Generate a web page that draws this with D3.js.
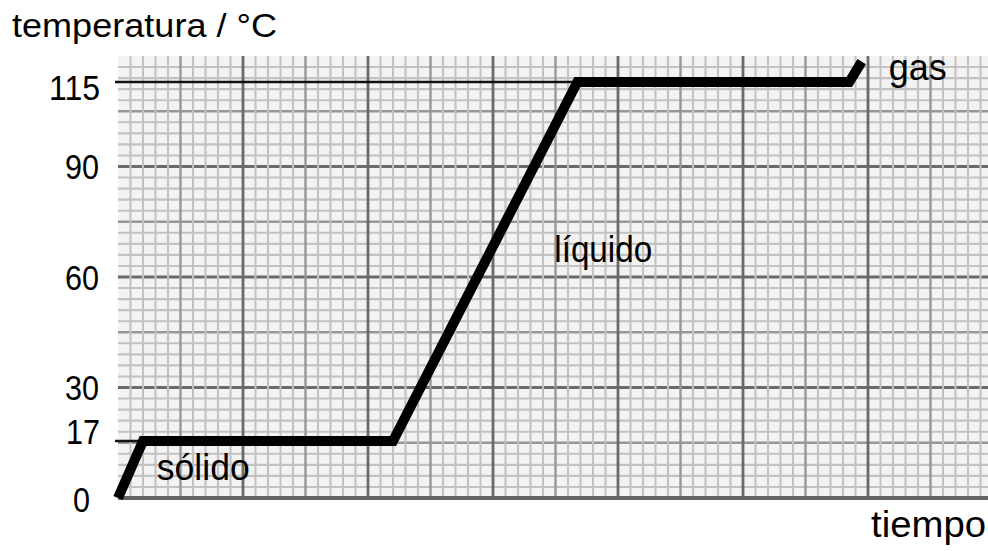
<!DOCTYPE html>
<html>
<head>
<meta charset="utf-8">
<script src="https://cdn.jsdelivr.net/npm/d3@7"></script>
<style>
  html, body { margin: 0; padding: 0; background: #fff; }
  svg { display: block; }
  text { font-family: "Liberation Sans", Arial, sans-serif; fill: #000; }
</style>
</head>
<body>
<svg id="chart"></svg>
<script>
// heating curve: time (arbitrary units, one per medium grid square) and temperature
const tiempo = [0, 0.4, 4.4, 7.35, 11.7, 11.9];
const temperatura = [0, 17, 17, 115, 115, 121];

// labelled temperatures on the vertical axis
const tempTicks = [0, 17, 30, 60, 90, 115];
// temperatures with a thin guide line out to the curve
const guideTemps = [17, 115];

// phase names and the point (time, temperature) where each label starts
const phases = ['sólido', 'líquido', 'gas'];
const phaseTiempo = [0.62, 6.98, 12.33];
const phaseTemp = [5.5, 64.3, 115.6];

document.addEventListener('DOMContentLoaded', function () {
    const width = 988;
    const height = 551;

    const svg = d3.select('#chart')
        .attr('width', width)
        .attr('height', height);

    // plot area (the graph paper)
    const left = 118, right = 993, bottom = 498, top = 56;

    // the axis is hand drawn, so the temperature scale is piecewise linear
    const yScale = d3.scaleLinear()
        .domain(tempTicks)
        .range([bottom, 441, 388, 278, 167, 82]);

    const xScale = d3.scaleLinear()
        .domain([0, 14])
        .range([left, right]);

    // graph paper: minor squares of 1/5 time unit across, 40 rows up
    const gx = d3.scaleLinear().domain([0, 70]).range([left, right]);
    const gy = d3.scaleLinear().domain([0, 40]).range([bottom, top]);

    const grid = svg.append('g').attr('class', 'grid');

    grid.append('rect')
        .attr('x', left)
        .attr('y', top)
        .attr('width', right - left)
        .attr('height', bottom - top)
        .attr('fill', '#f3f3f3');

    function lineStyle(i) {
        if (i % 10 === 0) return { c: '#6a6a6a', w: 2.8 };
        if (i % 5 === 0) return { c: '#979797', w: 2.4 };
        return { c: '#c2c2c2', w: 2.1 };
    }

    // minor lines first, then medium, then dark so the heavy ones sit on top
    const rank = i => (i % 10 === 0 ? 2 : i % 5 === 0 ? 1 : 0);
    const cols = d3.range(1, 71).sort((a, b) => rank(a) - rank(b));
    const rows = d3.range(1, 40).sort((a, b) => rank(a) - rank(b));

    grid.selectAll('.h')
        .data(rows)
        .enter()
        .append('line')
        .attr('class', 'h')
        .attr('x1', left)
        .attr('x2', right)
        .attr('y1', d => gy(d))
        .attr('y2', d => gy(d))
        .attr('stroke', d => lineStyle(d).c)
        .attr('stroke-width', d => lineStyle(d).w);

    grid.selectAll('.v')
        .data(cols)
        .enter()
        .append('line')
        .attr('class', 'v')
        .attr('x1', d => gx(d))
        .attr('x2', d => gx(d))
        .attr('y1', top)
        .attr('y2', bottom)
        .attr('stroke', d => lineStyle(d).c)
        .attr('stroke-width', d => lineStyle(d).w);

    // bottom edge (time axis)
    svg.append('line')
        .attr('x1', left)
        .attr('x2', right)
        .attr('y1', yScale(0))
        .attr('y2', yScale(0))
        .attr('stroke', '#646464')
        .attr('stroke-width', 4);

    // guide lines from the axis to the curve
    const points = tiempo.map((t, i) => ({ t: t, temp: temperatura[i] }));
    svg.selectAll('.guide')
        .data(guideTemps)
        .enter()
        .append('line')
        .attr('class', 'guide')
        .attr('x1', xScale(0) - 3)
        .attr('x2', d => xScale(points.find(p => p.temp >= d).t))
        .attr('y1', d => yScale(d))
        .attr('y2', d => yScale(d))
        .attr('stroke', '#111')
        .attr('stroke-width', 2.5);

    // the heating curve
    const line = d3.line()
        .x(d => xScale(d.t))
        .y(d => yScale(d.temp));

    svg.append('path')
        .datum(points)
        .attr('d', line)
        .attr('fill', 'none')
        .attr('stroke', '#000')
        .attr('stroke-width', 10)
        .attr('stroke-linejoin', 'miter')
        .attr('stroke-linecap', 'butt');

    // temperature labels
    const nudge = { 0: [-9, 2], 17: [1, -9], 115: [1, 6] };
    svg.selectAll('.tick-label')
        .data(tempTicks)
        .enter()
        .append('text')
        .attr('class', 'tick-label')
        .attr('x', d => 99 + (nudge[d] ? nudge[d][0] : 0))
        .attr('y', d => yScale(d) + 12 + (nudge[d] ? nudge[d][1] : 0))
        .attr('text-anchor', 'end')
        .attr('font-size', '35px')
        .attr('textLength', d => String(d).length * 17)
        .attr('lengthAdjust', 'spacingAndGlyphs')
        .text(d => d);

    // phase labels
    const labelLen = [93, 98, 58];
    svg.selectAll('.phase')
        .data(phases)
        .enter()
        .append('text')
        .attr('class', 'phase')
        .attr('x', (d, i) => xScale(phaseTiempo[i]))
        .attr('y', (d, i) => yScale(phaseTemp[i]))
        .attr('font-size', '37px')
        .attr('textLength', (d, i) => labelLen[i])
        .attr('lengthAdjust', 'spacingAndGlyphs')
        .text(d => d);

    // axis titles
    svg.append('text')
        .attr('x', 12)
        .attr('y', 37)
        .attr('font-size', '34px')
        .attr('textLength', 265)
        .attr('lengthAdjust', 'spacingAndGlyphs')
        .text('temperatura / °C');

    svg.append('text')
        .attr('x', 871)
        .attr('y', 537)
        .attr('font-size', '36px')
        .attr('textLength', 115)
        .attr('lengthAdjust', 'spacingAndGlyphs')
        .text('tiempo');
});
</script>
</body>
</html>
